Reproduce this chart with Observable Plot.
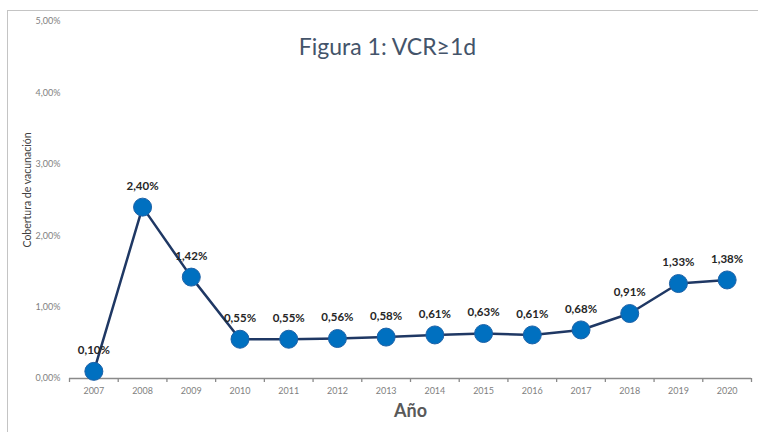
<!DOCTYPE html>
<html>
<head>
<meta charset="utf-8">
<script src="https://cdn.jsdelivr.net/npm/d3@7"></script>
<script src="https://cdn.jsdelivr.net/npm/@observablehq/plot@0.6"></script>
<style>
  html, body { margin: 0; padding: 0; background: #fff; }
  #wrap { position: relative; width: 758px; height: 432px; overflow: hidden; font-family: Lato, "Open Sans", sans-serif; }
  #frame { position: absolute; left: 7px; top: 10px; right: -5px; bottom: -5px; border-left: 1px solid #c4c4c4; border-top: 1px solid #c4c4c4; pointer-events: none; }
  #chart { position: absolute; left: 0; top: 0; }
</style>
</head>
<body>
<div id="wrap"><div id="chart"></div><div id="frame"></div></div>
<script>
const years = [2007, 2008, 2009, 2010, 2011, 2012, 2013, 2014, 2015, 2016, 2017, 2018, 2019, 2020];
const coverage = [0.10, 2.40, 1.42, 0.55, 0.55, 0.56, 0.58, 0.61, 0.63, 0.61, 0.68, 0.91, 1.33, 1.38];
const yTicks = [0, 1, 2, 3, 4, 5];
const title = "Figura 1: VCR≥1d";
const yLabel = "Cobertura de vacunación";
const xLabel = "Año";

const data = years.map((y, i) => ({year: y, value: coverage[i]}));
const boundaries = [years[0] - 0.5, ...years.map(y => y + 0.5)];
const loc = d3.formatLocale({decimal: ",", thousands: ".", grouping: [3], currency: ["", "€"]});
const pct = v => loc.format(".2f")(v) + "%";

const chart = Plot.plot({
  width: 758,
  height: 432,
  marginTop: 21,
  marginBottom: 54,
  marginLeft: 69,
  marginRight: 7,
  style: {fontFamily: "Lato, 'Open Sans', sans-serif", background: "transparent"},
  x: {domain: [years[0] - 0.5, years[years.length - 1] + 0.5], axis: null},
  y: {domain: [0, 5], axis: null},
  marks: [
    Plot.axisY({ticks: yTicks, tickSize: 0, tickPadding: 9, tickFormat: pct, fontSize: 9, color: "#7f7f7f", label: null}),
    Plot.axisX({ticks: years, tickSize: 0, tickPadding: 9, tickFormat: d3.format("d"), fontSize: 9, color: "#7f7f7f", label: null}),
    Plot.axisX({ticks: boundaries, tickSize: 4, tickFormat: () => "", stroke: "#8a8a8a", strokeWidth: 1.3, label: null}),
    Plot.ruleY([0], {stroke: "#8a8a8a", strokeWidth: 1.5}),
    Plot.line(data, {x: "year", y: "value", stroke: "#1F3864", strokeWidth: 2.5}),
    Plot.dot(data, {x: "year", y: "value", r: 9, fill: "#0070C0", stroke: "#1d62a8", strokeWidth: 1}),
    Plot.text(data, {x: "year", y: "value", text: d => pct(d.value), dy: -21, fontSize: 11.5, fontWeight: "bold", fill: "#262626"}),
    Plot.text([title], {frameAnchor: "top", dx: -23, dy: 26, fontSize: 23, fill: "#44546A", lineAnchor: "middle", textAnchor: "middle"}),
    Plot.text([yLabel], {frameAnchor: "left", rotate: -90, dx: -42, dy: -10, fontSize: 10.5, fill: "#404040", textAnchor: "middle", lineAnchor: "middle"}),
    Plot.text([xLabel], {frameAnchor: "bottom", dy: 33, fontSize: 18, fontWeight: "bold", fill: "#595959", textAnchor: "middle", lineAnchor: "middle"})
  ]
});
document.getElementById("chart").appendChild(chart);
</script>
</body>
</html>
